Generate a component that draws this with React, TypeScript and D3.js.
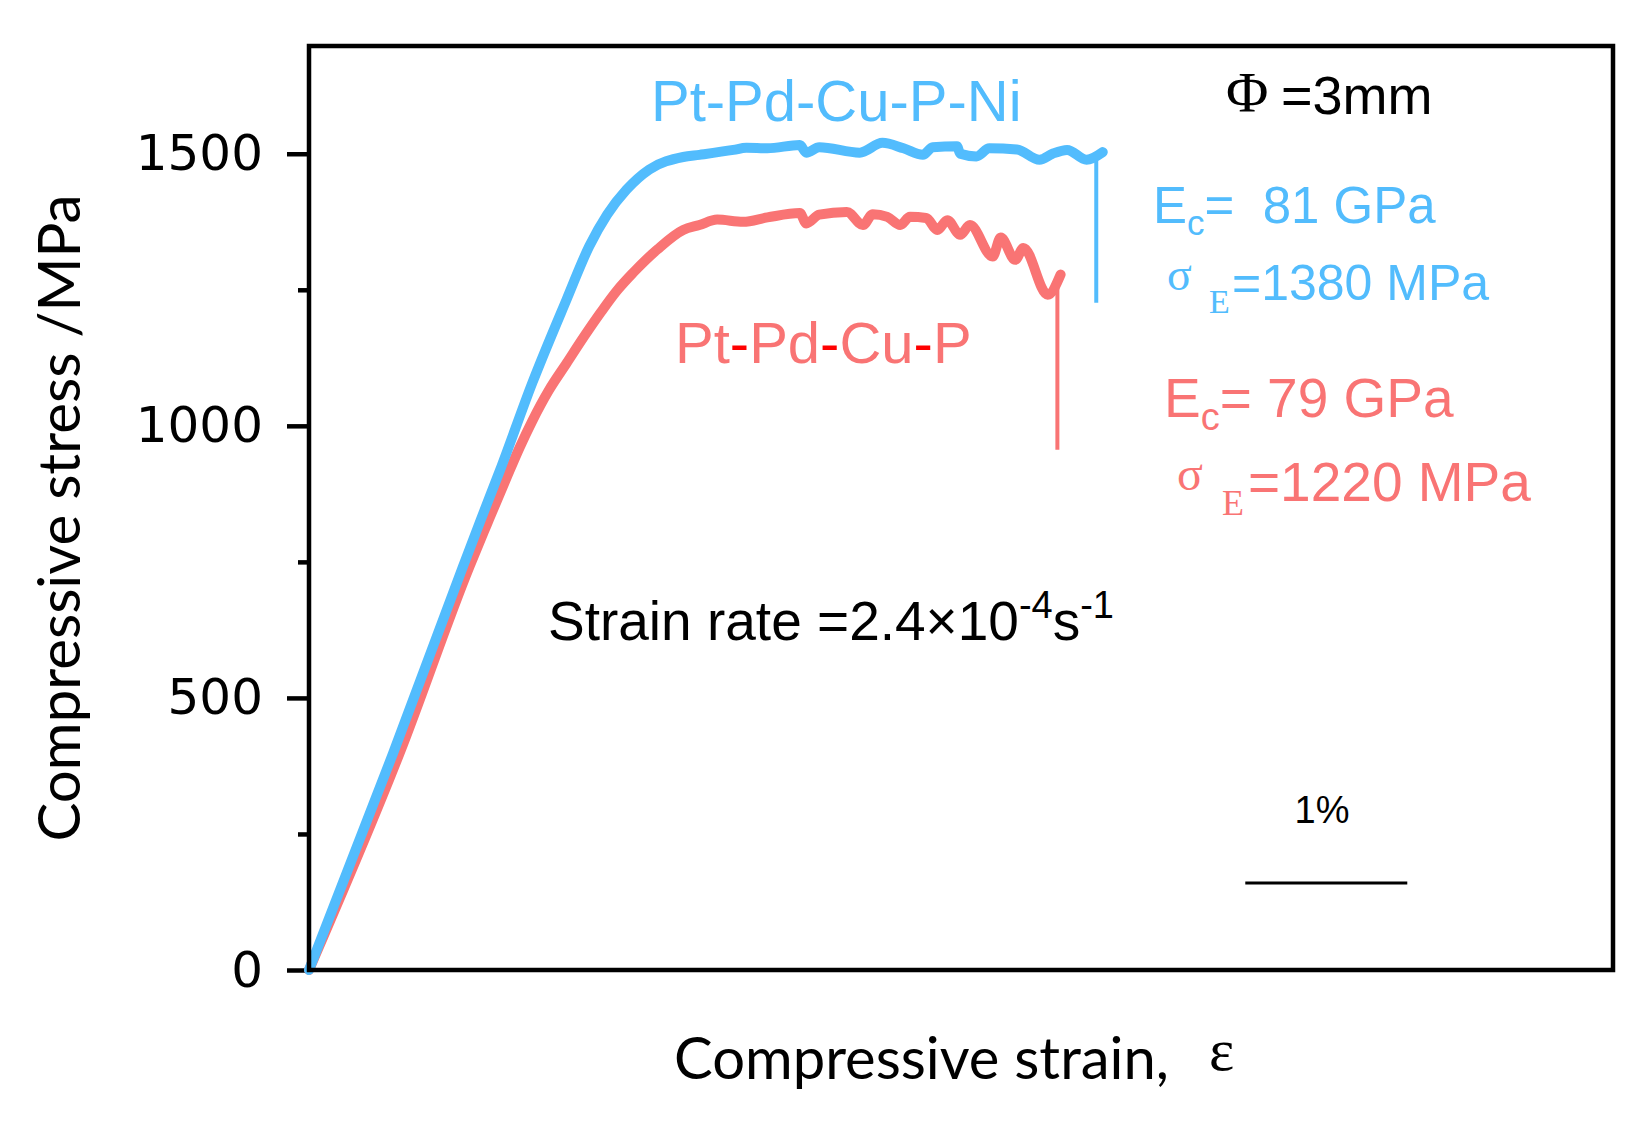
import React, { useEffect, useRef } from 'react';
import * as d3 from 'd3';

// Pt-Pd-Cu-P-Ni curve (strain in %, stress in MPa)
const niStrain = [0, 0.52, 0.95, 1.06, 1.18, 1.38, 1.59, 1.73, 1.84, 1.96, 2.1, 2.31, 2.41, 2.62, 2.7, 2.83, 3.03, 3.07, 3.15, 3.4, 3.54, 3.67, 3.79, 3.85, 4.0, 4.02, 4.12, 4.2, 4.37, 4.51, 4.59, 4.68, 4.8, 4.9];
const niStress = [0, 399, 741, 827, 919, 1080, 1232, 1330, 1388, 1434, 1471, 1494, 1498, 1507, 1511, 1510, 1516, 1502, 1512, 1502, 1520, 1510, 1498, 1512, 1514, 1500, 1495, 1510, 1508, 1489, 1500, 1507, 1489, 1503];

// Pt-Pd-Cu-P curve
const pStrain = [0, 0.56, 0.99, 1.1, 1.22, 1.3, 1.38, 1.48, 1.59, 1.7, 1.8, 1.9, 2.0, 2.15, 2.31, 2.41, 2.52, 2.68, 2.83, 3.03, 3.07, 3.15, 3.32, 3.42, 3.48, 3.57, 3.65, 3.71, 3.81, 3.88, 3.94, 4.02, 4.08, 4.22, 4.27, 4.36, 4.41, 4.56, 4.64];
const pStress = [0, 399, 741, 820, 905, 960, 1010, 1065, 1115, 1165, 1208, 1248, 1281, 1324, 1360, 1369, 1379, 1375, 1383, 1391, 1372, 1388, 1393, 1369, 1389, 1384, 1369, 1384, 1382, 1360, 1378, 1351, 1369, 1311, 1346, 1305, 1327, 1241, 1278];

// fracture drops: [strain, from stress, to stress]
const niFracture = [4.86, 1503, 1226];
const pFracture = [4.62, 1272, 956];

const majorTicks = [0, 500, 1000, 1500];
const minorTicks = [250, 750, 1250];

const BLUE = '#52bcfd';
const RED = '#f97474';

const App: React.FC = () => {
  const gRef = useRef<SVGGElement>(null);

  useEffect(() => {
    if (!gRef.current) return;
    const g = d3.select(gRef.current);
    g.selectAll('*').remove();

    const x = d3.scaleLinear().domain([0, 8.05]).range([309, 1613]);
    const y = d3.scaleLinear().domain([0, 1698]).range([970, 46]);

    // Major ticks with labels
    const yAxis = g
      .append('g')
      .attr('transform', `translate(${x(0)},0)`)
      .call(d3.axisLeft(y).tickValues(majorTicks).tickSize(22).tickPadding(24).tickFormat(d3.format('d')));
    yAxis.select('.domain').remove();
    yAxis.selectAll('line').attr('stroke', '#000').attr('stroke-width', 4.5);
    yAxis
      .selectAll('text')
      .attr('fill', '#000')
      .attr('font-family', '"DejaVu Sans", sans-serif')
      .attr('font-size', 50);

    // Minor ticks
    const yMinor = g
      .append('g')
      .attr('transform', `translate(${x(0)},0)`)
      .call(d3.axisLeft(y).tickValues(minorTicks).tickSize(11).tickFormat(() => ''));
    yMinor.select('.domain').remove();
    yMinor.selectAll('line').attr('stroke', '#000').attr('stroke-width', 4.5);

    const line = d3
      .line<[number, number]>()
      .x(d => x(d[0]))
      .y(d => y(d[1]))
      .curve(d3.curveMonotoneX);

    const pData = pStrain.map((s, i) => [s, pStress[i]] as [number, number]);
    const niData = niStrain.map((s, i) => [s, niStress[i]] as [number, number]);

    // fracture drops
    g.append('line')
      .attr('x1', x(pFracture[0]))
      .attr('x2', x(pFracture[0]))
      .attr('y1', y(pFracture[1]))
      .attr('y2', y(pFracture[2]))
      .attr('stroke', RED)
      .attr('stroke-width', 4);
    g.append('line')
      .attr('x1', x(niFracture[0]))
      .attr('x2', x(niFracture[0]))
      .attr('y1', y(niFracture[1]))
      .attr('y2', y(niFracture[2]))
      .attr('stroke', BLUE)
      .attr('stroke-width', 4);

    g.append('path')
      .datum(pData)
      .attr('d', line)
      .attr('fill', 'none')
      .attr('stroke', RED)
      .attr('stroke-width', 10)
      .attr('stroke-linejoin', 'round')
      .attr('stroke-linecap', 'round');

    g.append('path')
      .datum(niData)
      .attr('d', line)
      .attr('fill', 'none')
      .attr('stroke', BLUE)
      .attr('stroke-width', 10)
      .attr('stroke-linejoin', 'round')
      .attr('stroke-linecap', 'round');

    // Frame
    g.append('rect')
      .attr('x', x(0))
      .attr('y', y(1698))
      .attr('width', x(8.05) - x(0))
      .attr('height', y(0) - y(1698))
      .attr('fill', 'none')
      .attr('stroke', '#000')
      .attr('stroke-width', 4.5);

    // 1% scale bar
    g.append('line')
      .attr('x1', x(5.78))
      .attr('x2', x(6.78))
      .attr('y1', 883)
      .attr('y2', 883)
      .attr('stroke', '#000')
      .attr('stroke-width', 3);
  }, []);

  const arial = '"Liberation Sans", Arial, sans-serif';
  const serif = '"Liberation Serif", "Times New Roman", serif';
  const title = 'Lato, "Open Sans", sans-serif';

  return (
    <svg
      width={1651}
      height={1124}
      style={{ position: 'absolute', left: 0, top: 0, background: '#fff' }}
    >
      <rect width={1651} height={1124} fill="#fff" />
      <g ref={gRef} />

      <text x={651} y={121} fontFamily={arial} fontSize={58} fill={BLUE}>
        Pt-Pd-Cu-P-Ni
      </text>
      <text x={675} y={363} fontFamily={arial} fontSize={58} fill={RED}>
        Pt<tspan fill="#ff0000">-</tspan>Pd<tspan fill="#ff0000">-</tspan>Cu<tspan fill="#ff0000">-</tspan>P
      </text>

      <text x={1226} y={112} fontFamily={serif} fontSize={58} fill="#000">Φ</text>
      <text x={1281} y={114} fontFamily={arial} fontSize={54} fill="#000">=3mm</text>

      <text x={1153} y={223} fontFamily={arial} fontSize={51} fill={BLUE} style={{ whiteSpace: 'pre' }}>
        E<tspan fontSize={35} dy={12}>c</tspan><tspan dy={-12}>{'=  81 GPa'}</tspan>
      </text>
      <text x={1167} y={290} fontFamily={serif} fontSize={46} fill={BLUE}>σ</text>
      <text x={1209} y={313} fontFamily={serif} fontSize={34} fill={BLUE}>E</text>
      <text x={1232} y={300} fontFamily={arial} fontSize={50} fill={BLUE}>=1380 MPa</text>

      <text x={1164} y={417} fontFamily={arial} fontSize={55} fill={RED} style={{ whiteSpace: 'pre' }}>
        E<tspan fontSize={38} dy={13}>c</tspan><tspan dy={-13}>{'= 79 GPa'}</tspan>
      </text>
      <text x={1177} y={490} fontFamily={serif} fontSize={48} fill={RED}>σ</text>
      <text x={1222} y={515} fontFamily={serif} fontSize={36} fill={RED}>E</text>
      <text x={1248} y={501} fontFamily={arial} fontSize={55} fill={RED}>=1220 MPa</text>

      <text x={548} y={640} fontFamily={arial} fontSize={55} fill="#000">
        Strain rate =2.4×10<tspan fontSize={38} dy={-22}>-4</tspan><tspan dy={22}>s</tspan><tspan fontSize={38} dy={-22}>-1</tspan>
      </text>

      <text x={1322} y={823} fontFamily={arial} fontSize={38} fill="#000" textAnchor="middle">1%</text>

      <text x={674} y={1079} fontFamily={title} fontSize={58} fill="#000" textLength={495} lengthAdjust="spacingAndGlyphs">
        Compressive strain,
      </text>
      <text x={1209} y={1070} fontFamily={serif} fontSize={60} fill="#000">ε</text>

      <text
        transform="translate(80,518) rotate(-90)"
        fontFamily={title}
        fontSize={58}
        fill="#000"
        textAnchor="middle"
        textLength={647}
        lengthAdjust="spacingAndGlyphs"
      >
        Compressive stress /MPa
      </text>
    </svg>
  );
};

export default App;
